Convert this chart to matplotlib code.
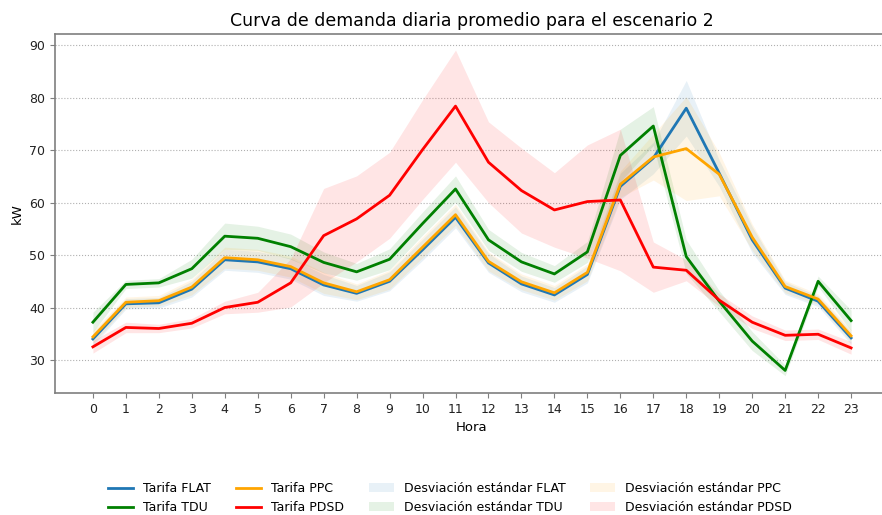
import numpy as np
import matplotlib
matplotlib.use("Agg")
import matplotlib.pyplot as plt

hours = list(range(24))

flat = [34.0, 40.7, 40.9, 43.5, 49.1, 48.7, 47.4, 44.3, 42.7, 45.0, 51.0, 57.2,
        48.5, 44.5, 42.4, 46.3, 63.1, 68.5, 78.0, 65.6, 52.9, 43.7, 41.2, 34.2]
flat_sd = [1.2, 1.0, 1.0, 1.5, 2.0, 2.0, 2.0, 2.0, 1.5, 1.8, 2.0, 2.0,
           1.8, 1.5, 1.4, 1.6, 2.5, 3.0, 5.3, 2.5, 2.5, 1.2, 1.0, 1.2]

tdu = [37.2, 44.4, 44.7, 47.4, 53.6, 53.2, 51.6, 48.6, 46.8, 49.2, 56.0, 62.6,
       52.9, 48.7, 46.4, 50.6, 69.0, 74.6, 49.7, 41.2, 33.6, 28.0, 45.0, 37.5]
tdu_sd = [1.9, 0.8, 0.8, 1.8, 2.5, 2.3, 2.4, 2.0, 1.6, 2.0, 2.2, 2.5,
          2.0, 1.8, 1.6, 2.0, 5.0, 3.7, 3.2, 2.0, 1.8, 1.0, 1.0, 2.0]

ppc = [34.4, 41.0, 41.3, 43.9, 49.5, 49.1, 47.8, 44.7, 43.0, 45.3, 51.5, 57.7,
       48.8, 44.9, 42.8, 46.7, 63.5, 68.7, 70.3, 65.4, 53.4, 44.0, 41.6, 34.6]
ppc_sd = [1.2, 1.0, 1.0, 1.5, 2.0, 2.0, 2.0, 2.0, 1.5, 1.8, 2.0, 2.0,
          1.8, 1.5, 1.4, 1.6, 2.5, 4.4, 9.9, 4.1, 2.5, 1.2, 1.0, 1.2]

pdsd = [32.5, 36.2, 36.0, 37.0, 40.0, 41.0, 44.7, 53.7, 56.9, 61.4, 70.1, 78.4,
        67.7, 62.3, 58.6, 60.2, 60.5, 47.7, 47.1, 41.4, 37.2, 34.7, 34.9, 32.3]
pdsd_sd = [1.2, 1.0, 0.8, 0.9, 1.2, 1.9, 4.6, 9.0, 8.2, 8.2, 9.5, 10.7,
           7.7, 8.1, 7.1, 10.8, 13.5, 4.8, 2.0, 1.2, 1.2, 1.0, 1.0, 1.2]

names = ["FLAT", "TDU", "PPC", "PDSD"]
means = [flat, tdu, ppc, pdsd]
sds = [flat_sd, tdu_sd, ppc_sd, pdsd_sd]
colors = ["#1f77b4", "green", "orange", "red"]

fig = plt.figure(figsize=(8.82, 5.15), dpi=100)
ax = fig.add_axes([55 / 882, 1 - 393 / 515, 834 / 882, (393 - 34) / 515])

x = np.array(hours)
lines = []
fills = []
for n, m, c in zip(names, means, colors):
    l, = ax.plot(x, np.array(m), color=c, lw=2, label="Tarifa " + n)
    lines.append(l)
for n, m, s, c in zip(names, means, sds, colors):
    m = np.array(m)
    s = np.array(s)
    f = ax.fill_between(x, m - s, m + s, color=c, alpha=0.1, lw=0,
                        label="Desviación estándar " + n)
    fills.append(f)

ax.set_xticks(hours)
ax.set_xlim(-1.15, 24.15)
ax.set_ylim(23.7, 92.15)
ax.yaxis.grid(True, linestyle=":", color="#b0b0b0", lw=0.8)
ax.set_axisbelow(True)
for sp in ax.spines.values():
    sp.set_color("#7f7f7f")
    sp.set_linewidth(1.2)
ax.tick_params(colors="#222222", labelsize=9, color="#7f7f7f")
ax.set_xlabel("Hora", fontsize=9.5)
ax.set_ylabel("kW", fontsize=9.5)
ax.set_title("Curva de demanda diaria promedio para el escenario 2", fontsize=12.5)

fig.legend(lines + fills, [h.get_label() for h in lines + fills],
           loc="center", bbox_to_anchor=(450 / 882, 1 - 498 / 515), ncol=4,
           frameon=False, fontsize=9, columnspacing=2.0)

fig.savefig("out.png", dpi=100)
